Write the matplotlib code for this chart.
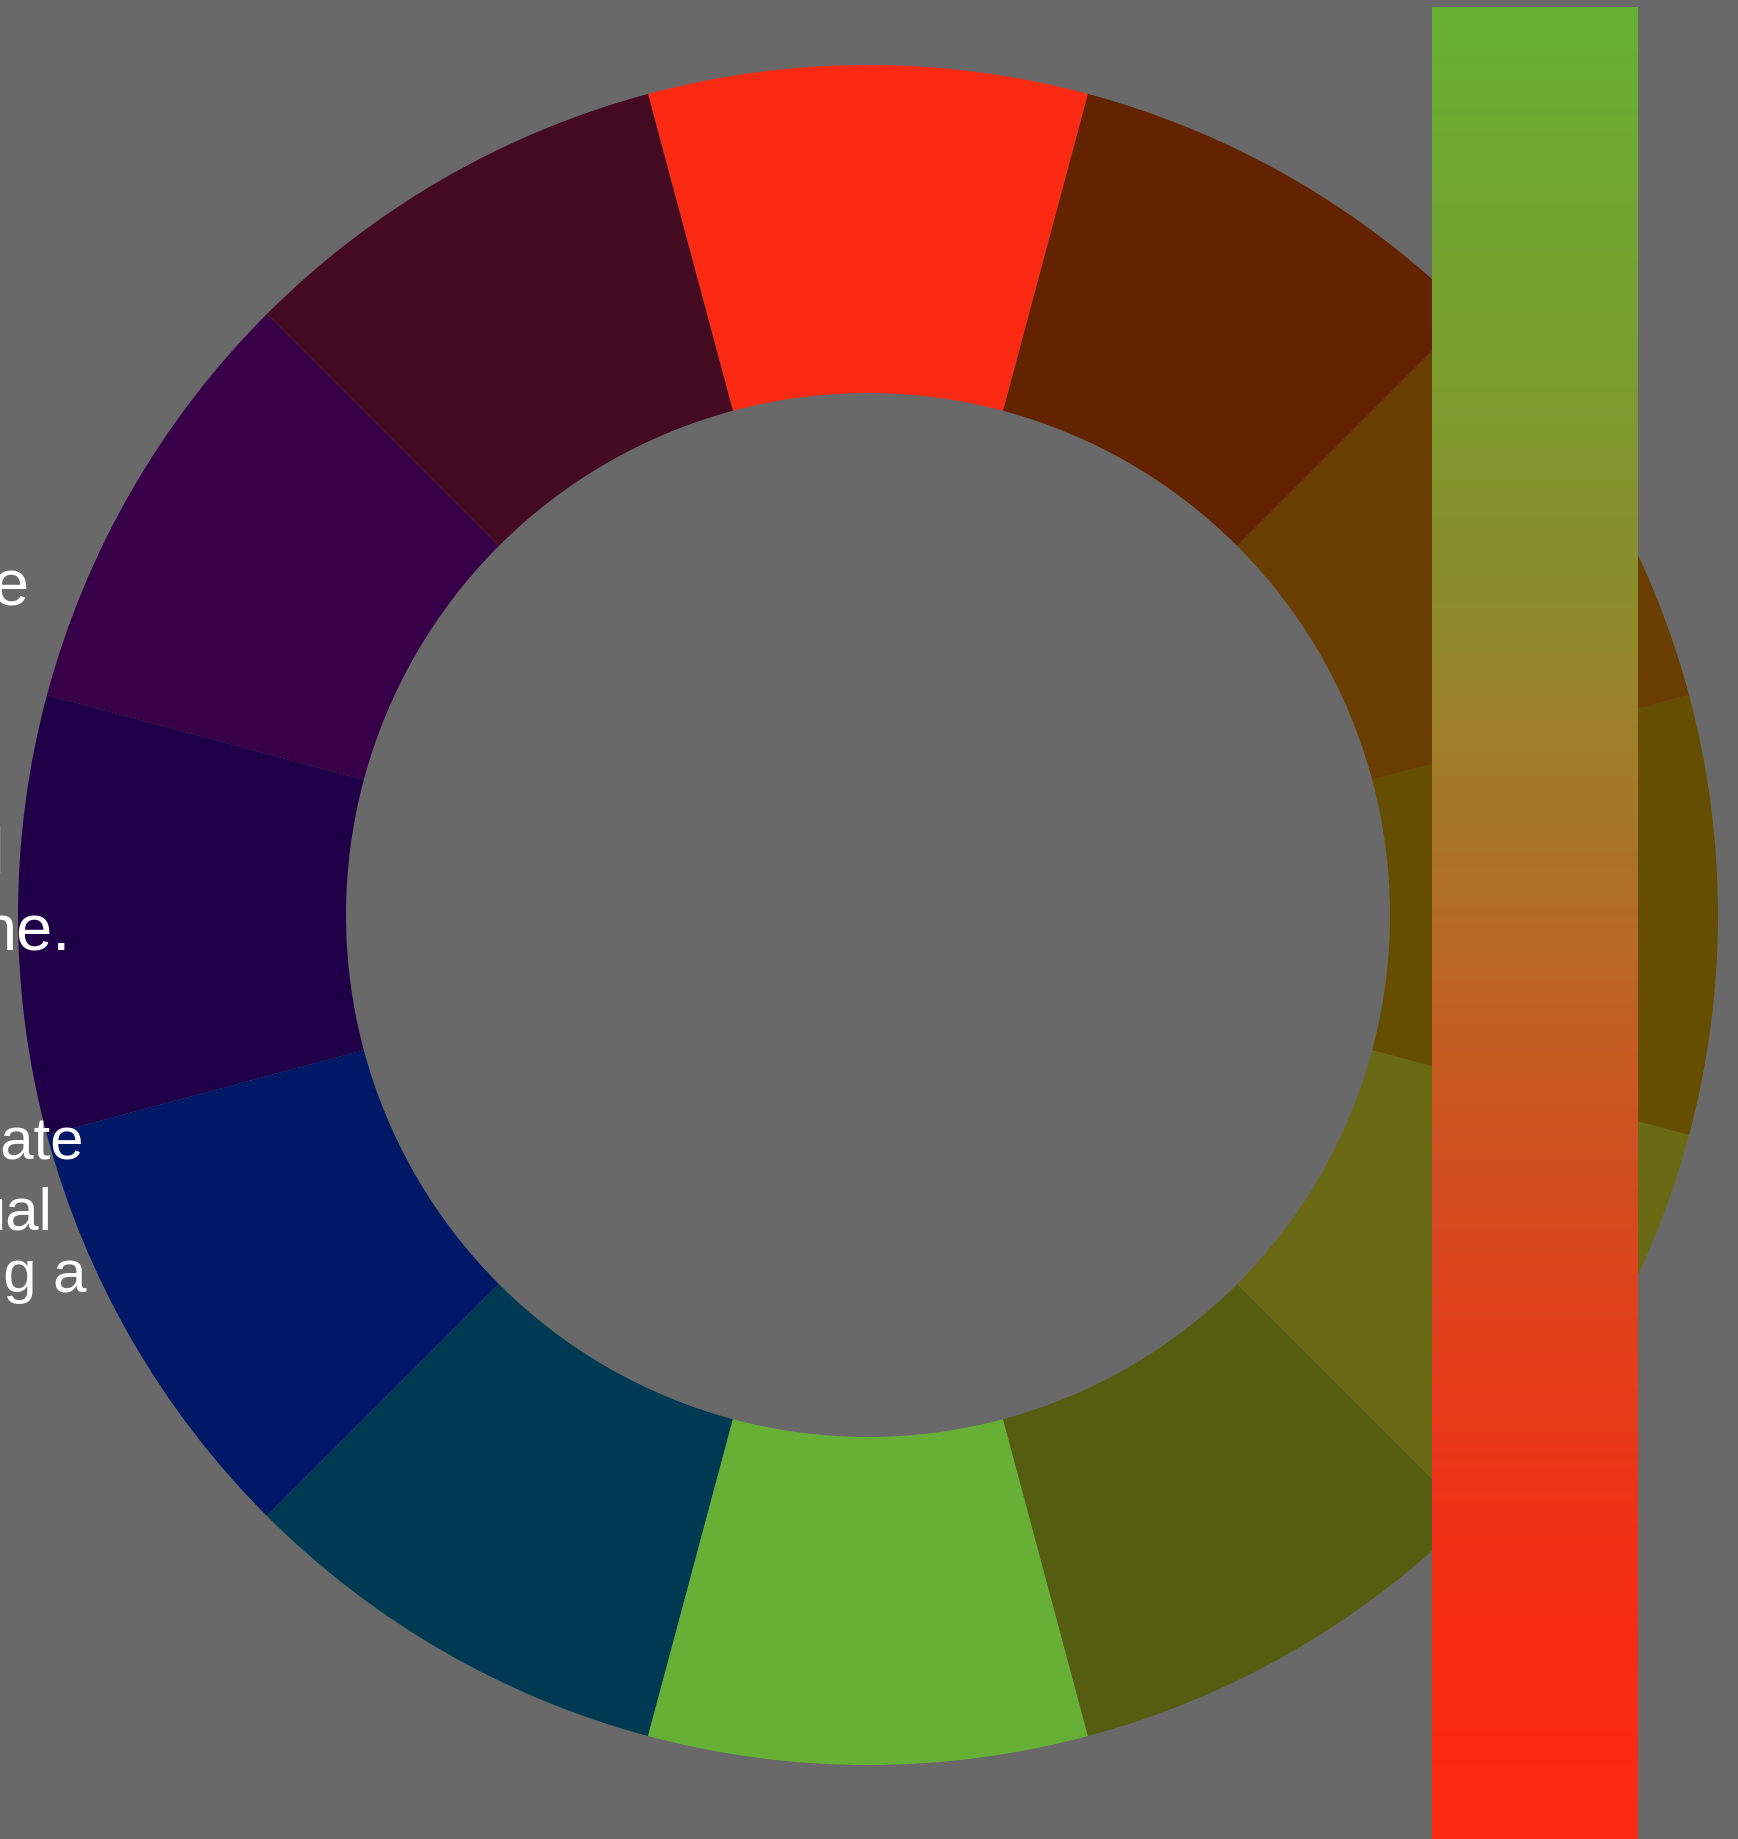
import numpy as np
import matplotlib
matplotlib.use("Agg")
import matplotlib.pyplot as plt
from matplotlib.colors import LinearSegmentedColormap

W, H = 1738, 1839
BG = "#696969"

# Colour wheel segments (counter-clockwise, starting with the top segment)
segment_values = [1] * 12
segment_colors = ["#FD2A13", "#430A20", "#380048", "#1F0048", "#001866", "#003A52",
                  "#66B035", "#555E10", "#6B6A14", "#664E00", "#6A3D00", "#632200"]

# Gradient bar colour stops (position from top, colour)
bar_positions = [0.0, 0.19, 0.32, 0.38, 0.45, 0.51, 0.57, 0.64, 0.70, 0.77, 0.83, 0.89, 1.0]
bar_colors = ["#66B033", "#7A9E30", "#8C8C2C", "#9B822B", "#A87528", "#B86A26",
              "#C65C23", "#D24E20", "#DE441D", "#E83A1A", "#F03117", "#F72C14", "#FD2A12"]

# Visible fragments of slide text (clipped at left edge)
text_big = ["e", "l", "ne."]
text_small = ["eate", "ual", "ng a"]

fig = plt.figure(figsize=(W / 100, H / 100), dpi=100, facecolor=BG)

# Donut
cx, cy, R, r = 868, 915, 850, 522
ax = fig.add_axes([(cx - R) / W, 1 - (cy + R) / H, 2 * R / W, 2 * R / H])
ax.set_facecolor(BG)
ax.pie(segment_values, colors=segment_colors, startangle=75, counterclock=True,
       radius=1.0, wedgeprops=dict(width=(R - r) / R, linewidth=0))
ax.set_xlim(-1, 1)
ax.set_ylim(-1, 1)
ax.set_aspect("equal")
ax.axis("off")

# Gradient bar
bx0, bx1, by0 = 1432, 1638, 7
bax = fig.add_axes([bx0 / W, 0, (bx1 - bx0) / W, (H - by0) / H])
cmap = LinearSegmentedColormap.from_list("bar", list(zip(bar_positions, bar_colors)))
grad = np.linspace(0, 1, 512).reshape(-1, 1)
bax.imshow(grad, cmap=cmap, aspect="auto", extent=[0, 1, 1, 0], interpolation="bilinear")
bax.set_xlim(0, 1)
bax.set_ylim(1, 0)
bax.axis("off")

# Text fragments
font = ["Liberation Sans", "DejaVu Sans"]
big_pos = [(28, 605), (4, 873), (71, 950)]
small_pos = [(84, 1160), (52, 1230), (86, 1292)]
for s, (x, y) in zip(text_big, big_pos):
    fig.text(x / W, 1 - y / H, s, ha="right", va="baseline", color="white",
             fontsize=65 * 0.72, family=font)
for s, (x, y) in zip(text_small, small_pos):
    fig.text(x / W, 1 - y / H, s, ha="right", va="baseline", color="white",
             fontsize=60 * 0.72, family=font)

fig.savefig("out.png", dpi=100, facecolor=BG)
